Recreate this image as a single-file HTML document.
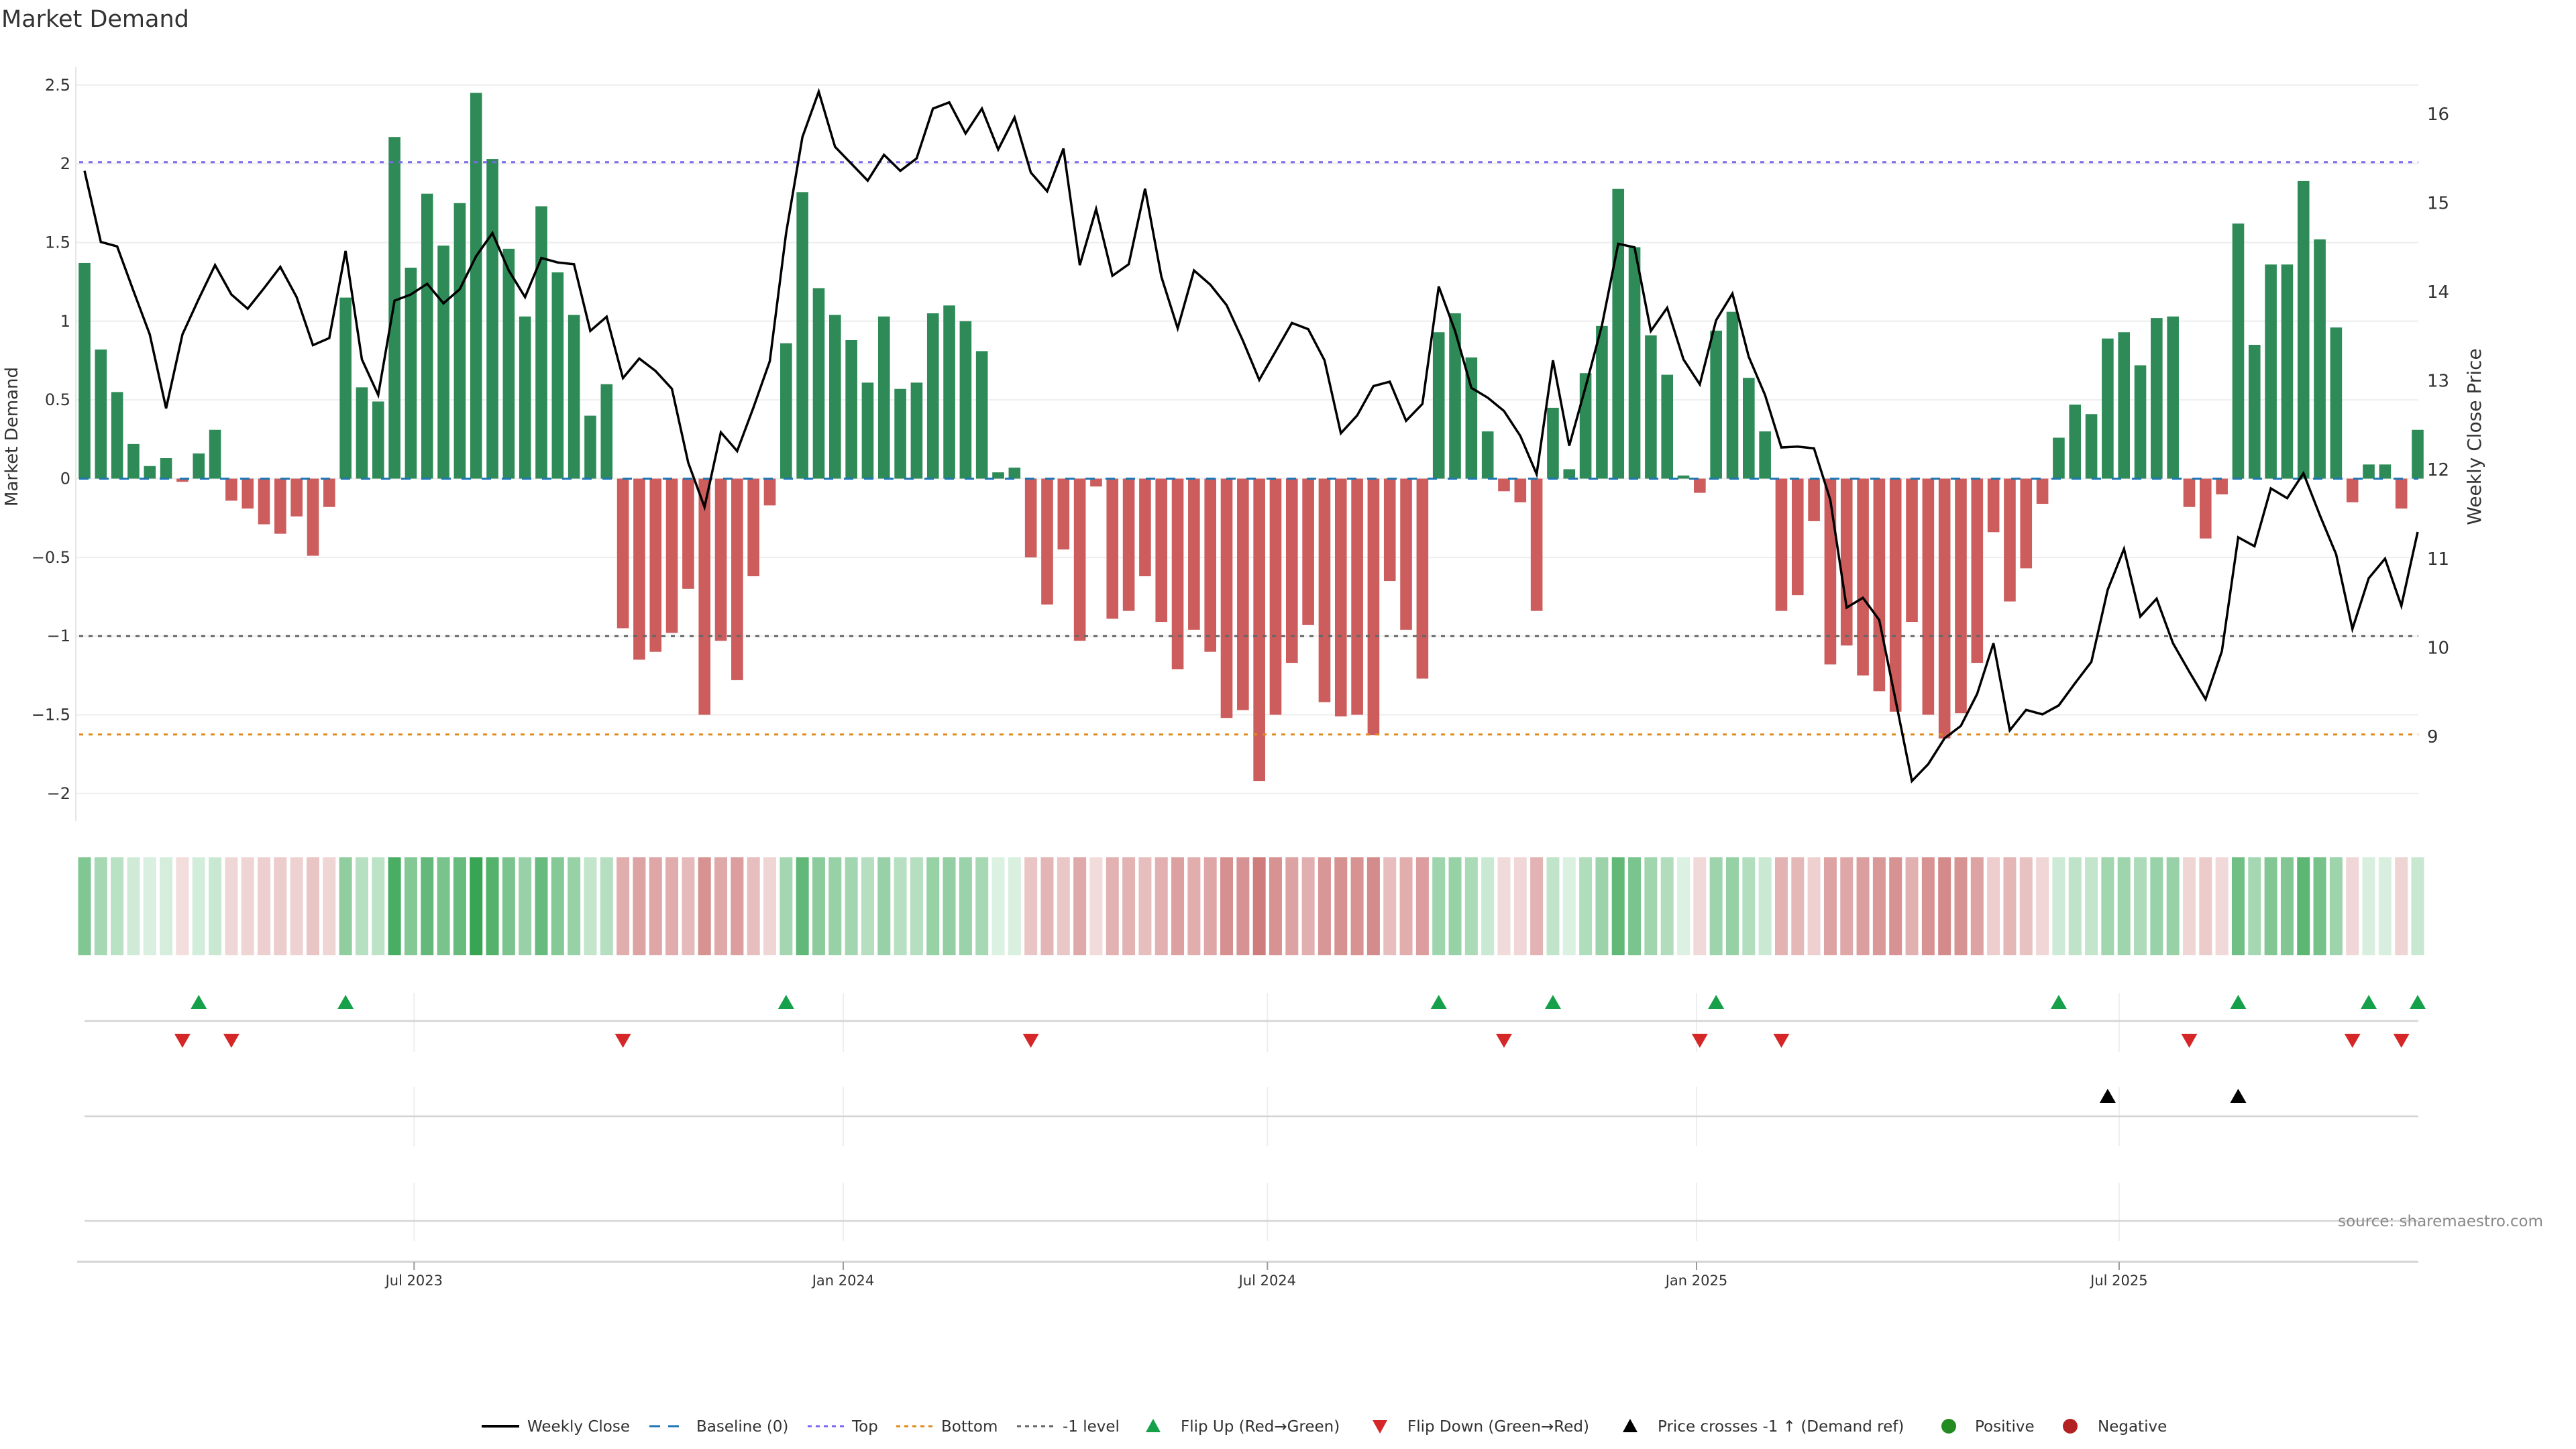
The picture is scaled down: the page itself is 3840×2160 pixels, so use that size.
<!DOCTYPE html>
<html><head><meta charset="utf-8"><style>
html,body{margin:0;padding:0;background:#fff;}
svg{display:block;font-family:"DejaVu Sans","Liberation Sans",sans-serif;}
</style></head><body>
<svg id="chart" width="3840" height="2160" viewBox="0 0 3840 2160" xmlns="http://www.w3.org/2000/svg">
<text x="2" y="40" font-size="35" fill="#333">Market Demand</text>
<g id="grid"></g>
<g id="bars"></g>
<g id="refs"></g>
<g id="price"></g>
<g id="heat"></g>
<g id="events"></g>
<g id="axes"></g>
<text transform="translate(26,651) rotate(-90)" text-anchor="middle" font-size="26" fill="#333">Market Demand</text>
<text transform="translate(3698,651) rotate(-90)" text-anchor="middle" font-size="28" fill="#333">Weekly Close Price</text>
<text x="3791" y="1828" text-anchor="end" font-size="23" fill="#888">source: sharemaestro.com</text>
<g id="legend"></g>
</svg>
<script>
const demand = [1.37,0.82,0.55,0.22,0.08,0.13,-0.02,0.16,0.31,-0.14,-0.19,-0.29,-0.35,-0.24,-0.49,-0.18,1.15,0.58,0.49,2.17,1.34,1.81,1.48,1.75,2.45,2.03,1.46,1.03,1.73,1.31,1.04,0.40,0.60,-0.95,-1.15,-1.10,-0.98,-0.70,-1.50,-1.03,-1.28,-0.62,-0.17,0.86,1.82,1.21,1.04,0.88,0.61,1.03,0.57,0.61,1.05,1.10,1.00,0.81,0.04,0.07,-0.50,-0.80,-0.45,-1.03,-0.05,-0.89,-0.84,-0.62,-0.91,-1.21,-0.96,-1.10,-1.52,-1.47,-1.92,-1.50,-1.17,-0.93,-1.42,-1.51,-1.50,-1.63,-0.65,-0.96,-1.27,0.93,1.05,0.77,0.30,-0.08,-0.15,-0.84,0.45,0.06,0.67,0.97,1.84,1.47,0.91,0.66,0.02,-0.09,0.94,1.06,0.64,0.30,-0.84,-0.74,-0.27,-1.18,-1.06,-1.25,-1.35,-1.48,-0.91,-1.50,-1.65,-1.49,-1.17,-0.34,-0.78,-0.57,-0.16,0.26,0.47,0.41,0.89,0.93,0.72,1.02,1.03,-0.18,-0.38,-0.10,1.62,0.85,1.36,1.36,1.89,1.52,0.96,-0.15,0.09,0.09,-0.19,0.31];
const closePrice = [15.36,14.56,14.51,14.01,13.52,12.69,13.52,13.92,14.30,13.97,13.81,14.04,14.28,13.94,13.40,13.48,14.46,13.24,12.84,13.90,13.97,14.09,13.87,14.03,14.40,14.66,14.24,13.94,14.38,14.33,14.31,13.56,13.72,13.03,13.25,13.11,12.91,12.08,11.58,12.42,12.21,12.70,13.22,14.66,15.74,16.25,15.63,15.44,15.25,15.54,15.36,15.50,16.06,16.13,15.78,16.06,15.60,15.96,15.34,15.13,15.61,14.30,14.93,14.18,14.31,15.16,14.17,13.59,14.24,14.08,13.85,13.45,13.01,13.33,13.65,13.58,13.23,12.41,12.61,12.94,12.99,12.55,12.74,14.06,13.56,12.92,12.81,12.66,12.38,11.95,13.23,12.27,12.93,13.62,14.54,14.50,13.56,13.82,13.24,12.96,13.68,13.98,13.27,12.84,12.25,12.26,12.24,11.66,10.45,10.56,10.31,9.41,8.50,8.69,8.98,9.12,9.48,10.05,9.07,9.30,9.25,9.35,9.60,9.84,10.65,11.11,10.35,10.55,10.05,9.73,9.42,9.96,11.24,11.14,11.79,11.68,11.96,11.49,11.05,10.21,10.78,11.00,10.47,11.30];
const leftTicks = [2.5,2,1.5,1,0.5,0,-0.5,-1,-1.5,-2];
const leftTickLabels = ["2.5","2","1.5","1","0.5","0","−0.5","−1","−1.5","−2"];
const rightTicks = [9,10,11,12,13,14,15,16];
const monthTickIndex = [20.2,46.5,72.5,98.8,124.7];
const monthTickLabels = ["Jul 2023","Jan 2024","Jul 2024","Jan 2025","Jul 2025"];
const topLevel = 2.01, bottomLevel = -1.625, minusOneLevel = -1;

const NS="http://www.w3.org/2000/svg";
function mk(parent,tag,attrs){const e=document.createElementNS(NS,tag);for(const k in attrs)e.setAttribute(k,attrs[k]);parent.appendChild(e);return e;}
const X0=126, DX=3478/143, XL=113, XR=3605;
const xOf=i=>X0+i*DX;
const yL=v=>713.5-v*234.7;
const yR=p=>1098-(p-9)*132.6;
const G=id=>document.getElementById(id);

// grid + left ticks
const grid=G('grid'), axes=G('axes');
leftTicks.forEach((t,k)=>{
  const l=mk(grid,'line',{x1:XL,x2:XR,y1:yL(t),y2:yL(t),stroke:'#eeeeee','stroke-width':2});
  
  
  const tx=mk(axes,'text',{x:105,y:yL(t)+8,'text-anchor':'end','font-size':24,fill:'#333'});
  tx.textContent=leftTickLabels[k];
  
  
});
rightTicks.forEach(t=>{
  const tx=mk(axes,'text',{x:3618,y:yR(t)+9,'font-size':26,fill:'#333'});
  tx.textContent=String(t);
  
  
});
const al=mk(axes,'line',{x1:XL,x2:XL,y1:100,y2:1224,stroke:'#e6e6e6','stroke-width':2});



// bars
const bars=G('bars');
demand.forEach((v,i)=>{
  const y=Math.min(yL(v),yL(0)), h=Math.abs(yL(v)-yL(0));
  const r=mk(bars,'rect',{x:xOf(i)-8.8,y:y,width:17.6,height:Math.max(h,0.5),fill:v>=0?'#2e8b57':'#cd5c5c'});
  
  
});

// reference lines
const refs=G('refs');
function ref(v,color,dash,name){const l=mk(refs,'line',{x1:X0-8,x2:XR,y1:yL(v),y2:yL(v),stroke:color,'stroke-width':3,'stroke-dasharray':dash});
  
  }
ref(0,'#1f77b4','14 16','baseline-zero');
ref(topLevel,'#7b68ee','6 8','top-level-line');
ref(bottomLevel,'#e08a1e','6 8','bottom-level-line');
ref(minusOneLevel,'#666666','6 8','minus-one-level-line');

// price line
const pl=mk(G('price'),'polyline',{points:closePrice.map((p,i)=>xOf(i)+','+yR(p)).join(' '),fill:'none',stroke:'#000','stroke-width':3.5,'stroke-linejoin':'miter'});



// heat strip
function mix(a,b,t){t=Math.max(0,Math.min(1,t));return 'rgb('+a.map((c,k)=>Math.round(c+(b[k]-c)*t)).join(',')+')';}
demand.forEach((v,i)=>{
  const c=v>=0?mix([222,242,228],[52,163,80],v/2.5):mix([243,222,222],[205,120,120],-v/2);
  const r=mk(G('heat'),'rect',{x:xOf(i)-9.5,y:1278,width:19,height:146,fill:c});
  
  
});

// event panels
const ev=G('events');
[[1480,1568],[1620,1708],[1763,1850]].forEach(([a,b])=>{
  monthTickIndex.forEach(m=>{const l=mk(ev,'line',{x1:xOf(m),x2:xOf(m),y1:a,y2:b,stroke:'#eeeeee','stroke-width':2});
    
    });
});
[1522,1664,1820].forEach(y=>{const l=mk(ev,'line',{x1:X0,x2:XR,y1:y,y2:y,stroke:'#d4d4d4','stroke-width':2.5});
  
  });
function tri(x,y,up,color,name){const s=12;const pts=up?[[x-s,y+10],[x+s,y+10],[x,y-11]]:[[x-s,y-10],[x+s,y-10],[x,y+11]];
  const p=mk(ev,'polygon',{points:pts.map(q=>q.join(',')).join(' '),fill:color});
  
  }
const crossLevel = 9+(1098-yL(minusOneLevel))/132.6;
demand.forEach((v,i)=>{
  if(i===0)return;
  if(v>0&&demand[i-1]<=0)tri(xOf(i),1494,true,'#17a04a','flip-up-marker');
  if(v<0&&demand[i-1]>=0)tri(xOf(i),1551,false,'#d62728','flip-down-marker');
  if(closePrice[i]>=crossLevel&&closePrice[i-1]<crossLevel)tri(xOf(i),1634,true,'#000','price-cross-marker');
});

// x axis
const xa=mk(axes,'line',{x1:115,x2:XR,y1:1881,y2:1881,stroke:'#d4d4d4','stroke-width':3});


monthTickIndex.forEach((m,k)=>{
  const t=mk(axes,'line',{x1:xOf(m),x2:xOf(m),y1:1881,y2:1893,stroke:'#999','stroke-width':2});
  
  
  const tx=mk(axes,'text',{x:xOf(m),y:1916,'text-anchor':'middle','font-size':21,fill:'#333'});
  tx.textContent=monthTickLabels[k];
  
  
});

// legend
const lg=G('legend'); const LY=2126;
function ltext(x,s){const t=mk(lg,'text',{x:x,y:LY+8,'font-size':23,fill:'#333'});t.textContent=s;
  
  }
function lline(x,color,dash,w){const l=mk(lg,'line',{x1:x,x2:x+56,y1:LY,y2:LY,stroke:color,'stroke-width':w,'stroke-dasharray':dash});
  
  }
lline(718,'#000','none',4); ltext(786,'Weekly Close');
lline(968,'#1f77b4','16 12',3); ltext(1038,'Baseline (0)');
lline(1204,'#7b68ee','6 6',3); ltext(1270,'Top');
lline(1336,'#e08a1e','6 6',3); ltext(1403,'Bottom');
lline(1516,'#666','6 6',3); ltext(1584,'-1 level');
function lmark(x,shape,color){let e;
  if(shape==='up')e=mk(lg,'polygon',{points:`${x-11},${LY+9} ${x+11},${LY+9} ${x},${LY-11}`,fill:color});
  else if(shape==='down')e=mk(lg,'polygon',{points:`${x-11},${LY-9} ${x+11},${LY-9} ${x},${LY+11}`,fill:color});
  else e=mk(lg,'circle',{cx:x,cy:LY,r:11,fill:color});
  
  }
lmark(1719,'up','#17a04a'); ltext(1760,'Flip Up (Red→Green)');
lmark(2057,'down','#d62728'); ltext(2098,'Flip Down (Green→Red)');
lmark(2430,'up','#000'); ltext(2471,'Price crosses -1 ↑ (Demand ref)');
lmark(2905,'dot','#228b22'); ltext(2944,'Positive');
lmark(3086,'dot','#b22222'); ltext(3127,'Negative');
</script>
</body></html>
